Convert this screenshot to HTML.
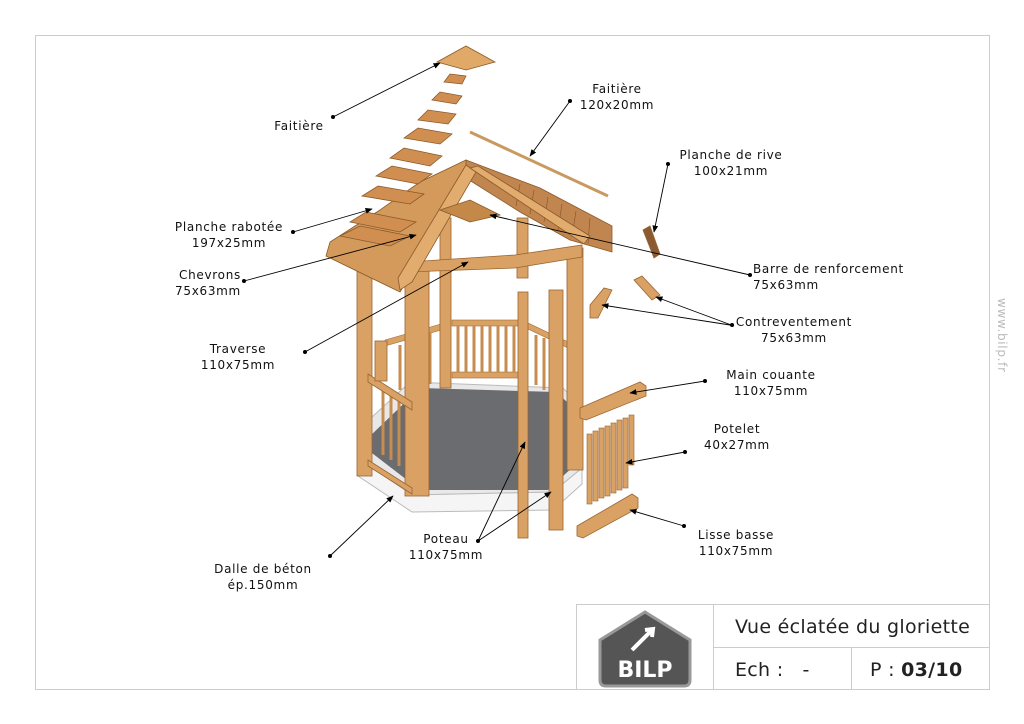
<!DOCTYPE html>
<html><head><meta charset="utf-8"><style>
html,body{margin:0;padding:0;background:#fff;width:1024px;height:724px;overflow:hidden}
svg{display:block}
text{font-family:"DejaVu Sans","Liberation Sans",sans-serif;font-size:12px;fill:#111;letter-spacing:0.7px}
</style></head><body>
<svg width="1024" height="724" viewBox="0 0 1024 724" xmlns="http://www.w3.org/2000/svg">
<defs>
<marker id="a" viewBox="0 0 10 10" refX="9" refY="5" markerWidth="8" markerHeight="8" orient="auto"><path d="M0,1 L10,5 L0,9 z" fill="#000"/></marker>
</defs>
<rect x="35.5" y="35.5" width="954" height="654" fill="none" stroke="#ccc"/>
<g stroke="#ccc" fill="none">
<rect x="576.5" y="604.5" width="413" height="85"/>
<line x1="713.5" y1="604" x2="713.5" y2="690"/>
<line x1="713" y1="647.5" x2="990" y2="647.5"/>
<line x1="851.5" y1="647" x2="851.5" y2="690"/>
</g>
<path d="M600,640 L645,612 L690,640 L690,680 Q690,686 684,686 L606,686 Q600,686 600,680 Z" fill="#555" stroke="#999" stroke-width="3"/>
<path d="M632,650 L652,630 M645,630 L653,629 L652,637" stroke="#fff" stroke-width="4" fill="none"/>
<text x="645" y="677" text-anchor="middle" style="font-size:22px;font-weight:bold;fill:#fff;letter-spacing:0">BILP</text>
<text x="735" y="633" style="font-size:19px;letter-spacing:0.3px;fill:#222">Vue éclatée du gloriette</text>
<text x="735" y="676" style="font-size:19px;letter-spacing:0.3px;fill:#222">Ech :&#160;&#160;&#160;-</text>
<text x="870" y="676" style="font-size:19px;letter-spacing:0.3px;fill:#222">P : <tspan style="font-weight:bold">03/10</tspan></text>
<text transform="translate(998,298) rotate(90)" style="font-size:12px;fill:#bbb">www.bilp.fr</text>

<polygon points="358,458 412,495 553,492 582,468 582,408 563,388 410,382 358,430" fill="#e8e8e8" stroke="#bbb"/>
<polygon points="358,458 412,495 553,492 582,468 582,484 553,510 412,512 358,476" fill="#f5f5f5" stroke="#bbb"/>
<polygon points="368,450 420,490 548,490 576,464 576,410 556,392 420,388 368,438" fill="#6a6c70"/>
<g fill="#d9a264" stroke="#a06a35" stroke-width="0.6">
<rect x="452" y="320" width="70" height="6"/>
<rect x="452" y="372" width="70" height="6"/>
<polygon points="385,340 448,322 448,328 385,346"/>
<polygon points="526,322 568,342 568,348 526,328"/>
</g>
<g stroke="#c78c4f" stroke-width="3">
<line x1="458" y1="326" x2="458" y2="372"/><line x1="466" y1="326" x2="466" y2="372"/><line x1="474" y1="326" x2="474" y2="372"/><line x1="482" y1="326" x2="482" y2="372"/><line x1="490" y1="326" x2="490" y2="372"/><line x1="498" y1="326" x2="498" y2="372"/><line x1="506" y1="326" x2="506" y2="372"/><line x1="514" y1="326" x2="514" y2="372"/>
<line x1="400" y1="345" x2="400" y2="390"/><line x1="410" y1="340" x2="410" y2="388"/><line x1="420" y1="336" x2="420" y2="386"/><line x1="430" y1="332" x2="430" y2="384"/>
<line x1="536" y1="335" x2="536" y2="385"/><line x1="544" y1="338" x2="544" y2="390"/>
<line x1="383" y1="390" x2="383" y2="455"/><line x1="391" y1="395" x2="391" y2="460"/><line x1="399" y1="400" x2="399" y2="466"/><line x1="407" y1="405" x2="407" y2="472"/>
</g>
<g fill="#d9a264" stroke="#9a6430" stroke-width="0.8">
<rect x="440" y="218" width="11" height="170"/>
<rect x="517" y="218" width="11" height="60"/>
<rect x="357" y="268" width="15" height="208"/>
<rect x="405" y="270" width="24" height="226"/>
<rect x="567" y="248" width="16" height="222"/>
<polygon points="368,374 412,402 412,410 368,382"/>
<polygon points="368,460 412,488 412,494 368,466"/>
<rect x="375" y="341" width="12" height="40"/>
<polygon points="408,262 515,255 582,245 582,257 515,268 408,272"/>
<rect x="518" y="292" width="10" height="246"/>
<rect x="549" y="290" width="14" height="240"/>
<polygon points="580,408 640,382 646,386 646,396 586,420 580,418"/>
<polygon points="577,526 632,494 638,498 638,508 583,538 577,536"/>
<polygon points="590,305 604,288 612,290 598,318 590,318"/>
<polygon points="634,280 642,276 660,295 652,300"/>
<polygon points="643,230 650,226 660,254 654,258" fill="#8a5a30"/>
</g>
<g fill="#d9a264" stroke="#9a6430" stroke-width="0.6">
<rect x="587" y="434" width="5" height="70"/><rect x="593" y="431" width="5" height="70"/><rect x="599" y="428" width="5" height="70"/><rect x="605" y="426" width="5" height="70"/><rect x="611" y="423" width="5" height="70"/><rect x="617" y="420" width="5" height="70"/><rect x="623" y="418" width="5" height="70"/><rect x="629" y="415" width="5" height="50"/>
</g>
<g stroke="#8a5a2a" stroke-width="0.8">
<polygon points="466,160 540,188 612,226 612,252 570,240 520,212 466,178" fill="#c18650"/>
<g stroke="#8a5a2a" stroke-width="0.7">
<line x1="520" y1="184" x2="516" y2="206"/><line x1="534" y1="190" x2="530" y2="214"/><line x1="548" y1="197" x2="544" y2="222"/><line x1="562" y1="204" x2="558" y2="230"/><line x1="576" y1="211" x2="572" y2="237"/><line x1="590" y1="218" x2="588" y2="244"/>
</g>
<polygon points="466,160 420,182 380,210 330,242 326,256 400,292 420,260 466,180" fill="#d39a5c"/>
<polygon points="466,165 476,172 412,282 400,290 398,278" fill="#e2ac6e"/>
<polygon points="470,168 478,166 590,236 584,244" fill="#e2ac6e"/>
<polygon points="440,210 470,200 500,215 470,222" fill="#c48848"/>
<polygon points="340,236 390,246 410,236 360,226" fill="#d08f50"/>
<polygon points="350,222 400,232 416,222 366,212" fill="#d08f50"/>
<polygon points="362,196 410,204 424,194 378,186" fill="#d08f50"/>
<polygon points="376,176 418,184 432,174 392,166" fill="#d08f50"/>
<polygon points="390,158 430,166 442,156 404,148" fill="#d08f50"/>
<polygon points="404,138 440,144 452,134 418,128" fill="#d08f50"/>
<polygon points="418,120 448,124 456,114 428,110" fill="#d08f50"/>
<polygon points="432,100 456,104 462,96 440,92" fill="#d08f50"/>
<polygon points="444,82 462,84 466,76 450,74" fill="#d08f50"/>
<polygon points="437,62 466,46 495,62 466,70" fill="#e0a968"/>
</g>
<line x1="470" y1="132" x2="608" y2="196" stroke="#c99a60" stroke-width="3"/>

<g stroke="#000" stroke-width="0.9" fill="none" marker-end="url(#a)">
<line x1="333" y1="117" x2="440" y2="63"/>
<line x1="570" y1="101" x2="530" y2="156"/>
<line x1="668" y1="164" x2="654" y2="232"/>
<line x1="293" y1="232" x2="372" y2="209"/>
<line x1="244" y1="281" x2="416" y2="235"/>
<line x1="305" y1="352" x2="468" y2="262"/>
<line x1="750" y1="275" x2="490" y2="215"/>
<line x1="730" y1="325" x2="602" y2="305"/>
<line x1="734" y1="326" x2="656" y2="297"/>
<line x1="705" y1="381" x2="630" y2="393"/>
<line x1="685" y1="452" x2="626" y2="463"/>
<line x1="684" y1="526" x2="630" y2="510"/>
<line x1="478" y1="541" x2="525" y2="442"/>
<line x1="478" y1="541" x2="551" y2="492"/>
<line x1="330" y1="556" x2="393" y2="496"/>
</g>
<g fill="#000">
<circle cx="333" cy="117" r="2"/><circle cx="570" cy="101" r="2"/><circle cx="668" cy="164" r="2"/><circle cx="293" cy="232" r="2"/><circle cx="244" cy="281" r="2"/><circle cx="305" cy="352" r="2"/><circle cx="750" cy="275" r="2"/><circle cx="732" cy="325" r="2"/><circle cx="705" cy="381" r="2"/><circle cx="685" cy="452" r="2"/><circle cx="684" cy="526" r="2"/><circle cx="478" cy="541" r="2"/><circle cx="330" cy="556" r="2"/>
</g>

<g text-anchor="middle">
<text x="299" y="130">Faitière</text>
<text x="617" y="93">Faitière</text><text x="617" y="109">120x20mm</text>
<text x="731" y="159">Planche de rive</text><text x="731" y="175">100x21mm</text>
<text x="229" y="231">Planche rabotée</text><text x="229" y="247">197x25mm</text>
<text x="210" y="279">Chevrons</text><text x="208" y="295">75x63mm</text>
<text x="238" y="353">Traverse</text><text x="238" y="369">110x75mm</text>
<text x="794" y="326">Contreventement</text><text x="794" y="342">75x63mm</text>
<text x="771" y="379">Main couante</text><text x="771" y="395">110x75mm</text>
<text x="737" y="433">Potelet</text><text x="737" y="449">40x27mm</text>
<text x="736" y="539">Lisse basse</text><text x="736" y="555">110x75mm</text>
<text x="446" y="543">Poteau</text><text x="446" y="559">110x75mm</text>
<text x="263" y="573">Dalle de béton</text><text x="263" y="589">ép.150mm</text>
</g>
<text x="753" y="273">Barre de renforcement</text><text x="753" y="289">75x63mm</text>
</svg>
</body></html>
